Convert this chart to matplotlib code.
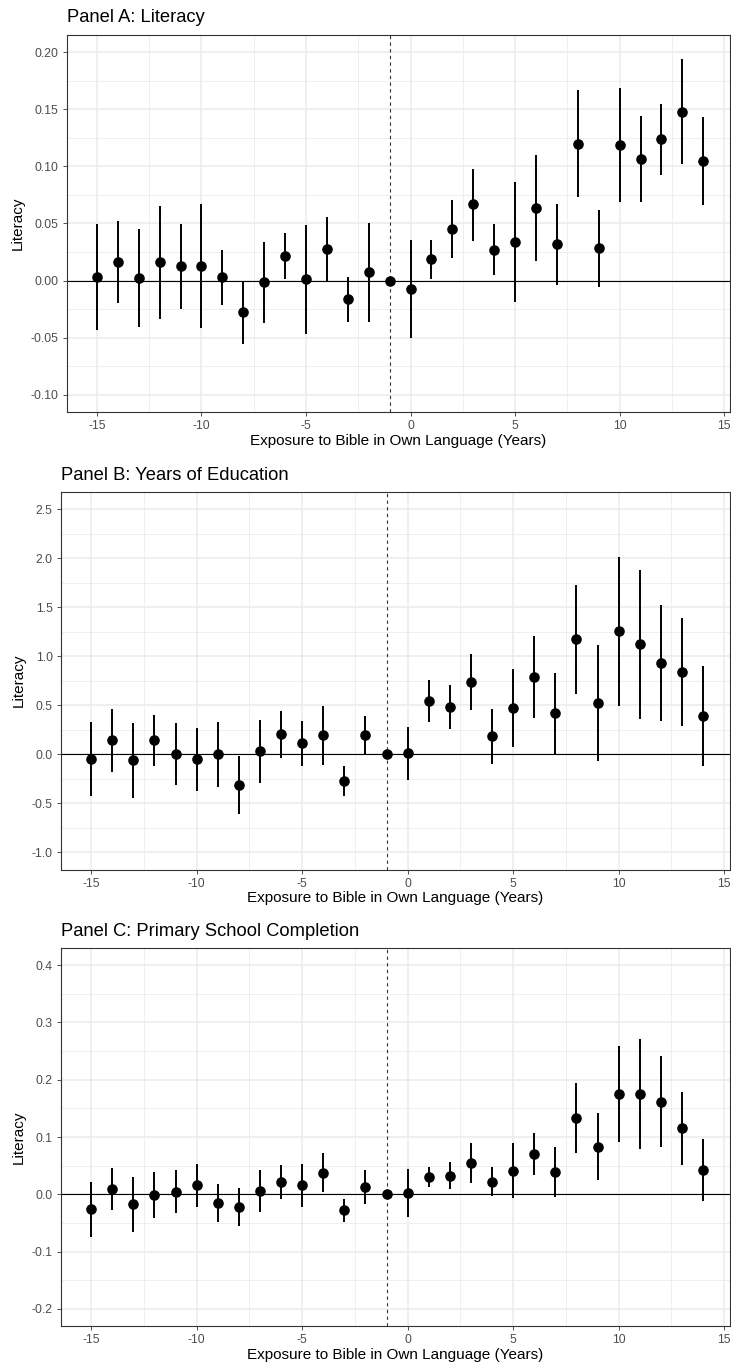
import matplotlib
matplotlib.use("Agg")
import matplotlib.pyplot as plt
import numpy as np

plt.rcParams["font.family"] = ["Liberation Sans", "DejaVu Sans"]

# Event-time (years of exposure to the Bible in own language)
years = list(range(-15, 15))

# Panel A: Literacy
lit_est = [0.0035, 0.0163, 0.0020, 0.0160, 0.0125, 0.0128, 0.0029, -0.0274, -0.0015, 0.0215,
           0.0015, 0.0280, -0.0163, 0.0073, 0.0, -0.0070, 0.0186, 0.0454, 0.0667, 0.0271,
           0.0341, 0.0638, 0.0317, 0.1200, 0.0285, 0.1185, 0.1066, 0.1240, 0.1479, 0.1045]
lit_lo = [-0.0430, -0.0198, -0.0410, -0.0338, -0.0245, -0.0416, -0.0210, -0.0553, -0.0367, 0.0015,
          -0.0466, 0.0000, -0.0361, -0.0361, np.nan, -0.0498, 0.0017, 0.0201, 0.0349, 0.0047,
          -0.0183, 0.0175, -0.0041, 0.0731, -0.0052, 0.0687, 0.0690, 0.0926, 0.1019, 0.0661]
lit_hi = [0.0495, 0.0524, 0.0448, 0.0655, 0.0492, 0.0672, 0.0271, 0.0000, 0.0338, 0.0416,
          0.0490, 0.0559, 0.0035, 0.0504, np.nan, 0.0355, 0.0355, 0.0705, 0.0981, 0.0492,
          0.0865, 0.1098, 0.0675, 0.1668, 0.0617, 0.1683, 0.1444, 0.1549, 0.1936, 0.1429]

# Panel B: Years of Education
edu_est = [-0.044, 0.143, -0.061, 0.143, 0.007, -0.048, 0.000, -0.310, 0.031, 0.207,
           0.112, 0.197, -0.269, 0.194, 0.0, 0.014, 0.548, 0.486, 0.738, 0.184,
           0.473, 0.789, 0.422, 1.173, 0.520, 1.255, 1.122, 0.929, 0.840, 0.395]
edu_lo = [-0.425, -0.180, -0.446, -0.122, -0.310, -0.378, -0.333, -0.605, -0.296, -0.037,
          -0.122, -0.105, -0.425, -0.010, np.nan, -0.265, 0.330, 0.259, 0.449, -0.102,
          0.071, 0.371, 0.000, 0.619, -0.071, 0.493, 0.364, 0.337, 0.289, -0.116]
edu_hi = [0.333, 0.459, 0.320, 0.405, 0.320, 0.272, 0.327, -0.017, 0.354, 0.446,
          0.337, 0.497, -0.119, 0.395, np.nan, 0.282, 0.762, 0.711, 1.020, 0.463,
          0.867, 1.204, 0.833, 1.724, 1.112, 2.014, 1.884, 1.520, 1.391, 0.898]

# Panel C: Primary School Completion
psc_est = [-0.0260, 0.0093, -0.0174, -0.0010, 0.0047, 0.0157, -0.0150, -0.0227, 0.0058, 0.0220,
           0.0157, 0.0380, -0.0280, 0.0134, 0.0, 0.0023, 0.0297, 0.0326, 0.0540, 0.0220,
           0.0413, 0.0709, 0.0395, 0.1337, 0.0826, 0.1750, 0.1756, 0.1616, 0.1151, 0.0430]
psc_lo = [-0.0750, -0.0280, -0.0657, -0.0420, -0.0330, -0.0230, -0.0490, -0.0560, -0.0310, -0.0076,
          -0.0220, 0.0047, -0.0490, -0.0174, np.nan, -0.0395, 0.0122, 0.0087, 0.0200, -0.0023,
          -0.0070, 0.0343, -0.0040, 0.0727, 0.0244, 0.0919, 0.0790, 0.0831, 0.0506, -0.0110]
psc_hi = [0.0220, 0.0465, 0.0300, 0.0395, 0.0424, 0.0535, 0.0180, 0.0110, 0.0430, 0.0510,
          0.0535, 0.0727, -0.0080, 0.0430, np.nan, 0.0448, 0.0470, 0.0558, 0.0890, 0.0470,
          0.0895, 0.1076, 0.0826, 0.1948, 0.1419, 0.2587, 0.2715, 0.2407, 0.1790, 0.0965]

panels = [
    dict(title="Panel A: Literacy", est=lit_est, lo=lit_lo, hi=lit_hi,
         ylim=(-0.115, 0.215), major=np.arange(-0.10, 0.201, 0.05), fmt="{:.2f}",
         box=(67, 35, 730, 412)),
    dict(title="Panel B: Years of Education", est=edu_est, lo=edu_lo, hi=edu_hi,
         ylim=(-1.175, 2.675), major=np.arange(-1.0, 2.51, 0.5), fmt="{:.1f}",
         box=(61, 492, 730, 869.5)),
    dict(title="Panel C: Primary School Completion", est=psc_est, lo=psc_lo, hi=psc_hi,
         ylim=(-0.23, 0.43), major=np.arange(-0.2, 0.401, 0.1), fmt="{:.1f}",
         box=(61, 948, 730, 1326)),
]

W, H = 731, 1365
fig = plt.figure(figsize=(W / 100, H / 100), dpi=100)

xlim = (-16.43, 15.28)
xmajor = [-15, -10, -5, 0, 5, 10, 15]
xminor = [-12.5, -7.5, -2.5, 2.5, 7.5, 12.5]

for p in panels:
    l, t, r, b = p["box"]
    ax = fig.add_axes([l / W, 1 - b / H, (r - l) / W, (b - t) / H])
    ax.set_xlim(*xlim)
    ax.set_ylim(*p["ylim"])

    major = p["major"]
    minor = (major[:-1] + major[1:]) / 2
    ax.set_xticks(xmajor)
    ax.set_xticklabels([str(v) for v in xmajor])
    ax.set_xticks(xminor, minor=True)
    ax.set_yticks(major)
    ax.set_yticklabels([p["fmt"].format(v) for v in major])
    ax.set_yticks(minor, minor=True)

    ax.grid(which="major", color="#EBEBEB", linewidth=1.1, zorder=0)
    ax.grid(which="minor", color="#EBEBEB", linewidth=0.55, zorder=0)
    ax.set_axisbelow(True)
    ax.tick_params(which="major", length=3, width=0.6, color="#333333",
                   labelsize=8.8, labelcolor="#4D4D4D", pad=3)
    ax.tick_params(which="minor", length=0)
    for s in ax.spines.values():
        s.set_color("#333333")
        s.set_linewidth(0.8)

    ax.axhline(0, color="black", linewidth=0.8, zorder=1)
    ax.axvline(-1, color="#333333", linewidth=0.8, linestyle=(0, (3, 3)), zorder=1)

    est = np.array(p["est"])
    lo = np.array(p["lo"])
    hi = np.array(p["hi"])
    ok = ~np.isnan(lo)
    yrs = np.array(years)
    ax.vlines(yrs[ok], lo[ok], hi[ok], color="black", linewidth=1.4, zorder=2)
    ax.plot(yrs, est, "o", color="black", markersize=6.6, zorder=3)

    ax.set_xlabel("Exposure to Bible in Own Language (Years)", fontsize=11, labelpad=1)
    ax.set_ylabel("Literacy", fontsize=11, labelpad=4)
    fig.text(l / W, 1 - (t - 17) / H, p["title"], fontsize=13.2, ha="left", va="center")

fig.savefig("out.png", dpi=100)
